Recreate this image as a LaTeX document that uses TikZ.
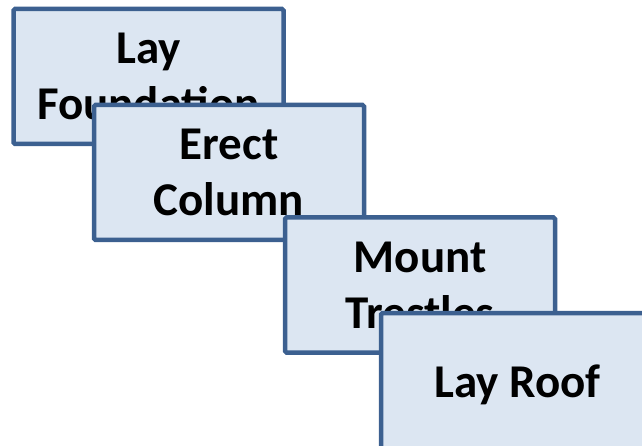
\documentclass[tikz,border=0pt]{standalone}
\usepackage{fontspec}
\setmainfont{Carlito}
\definecolor{boxfill}{HTML}{DCE6F2}
\definecolor{boxline}{HTML}{3C6090}
\tikzset{
  task/.style={draw=boxline, fill=boxfill, line width=4.5pt, rounded corners=1.5pt,
    minimum width=270pt, minimum height=135pt, align=center, text depth=0pt,
    font=\bfseries\fontsize{47}{56}\selectfont}
}

\begin{document}
\begin{tikzpicture}[x=1pt, y=-1pt]
\useasboundingbox (0,0) rectangle (642,446);
\clip (0,0) rectangle (642,446);
\node[task] (found) at (148.5,76.5) {Lay\\Foundation};
\node[task] (column) at (229,172.5) {Erect\\Column};
\node[task] (trestle) at (420,285) {Mount\\Trestles};
\node[task, minimum width=273pt, minimum height=136pt] (roof) at (517.5,381) {Lay Roof};
\end{tikzpicture}
\end{document}
